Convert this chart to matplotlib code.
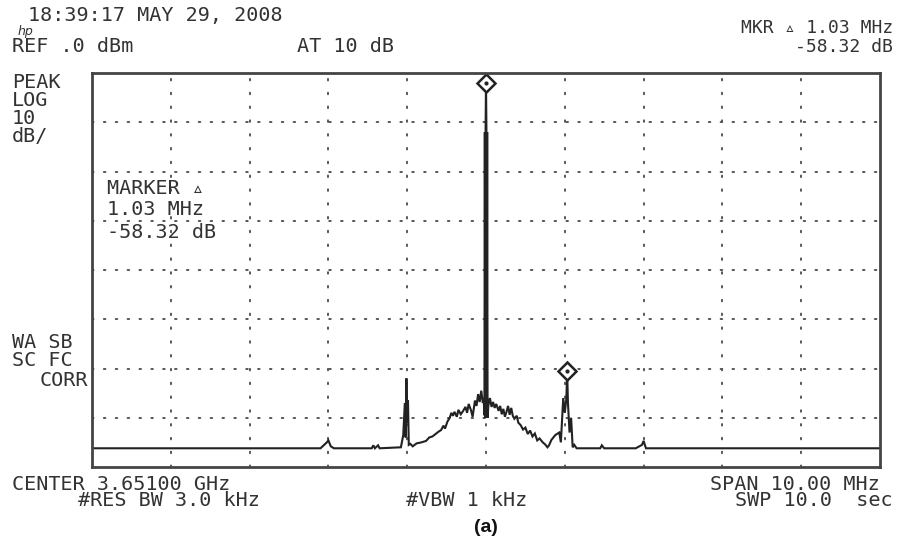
import matplotlib
matplotlib.use("Agg")
import matplotlib.pyplot as plt

# ---- data (offset from center in MHz, level in dBm) ----
freq_mhz = [-5.0, -2.1, -2.02, -2.0, -1.97, -1.93, -1.45, -1.43, -1.41, -1.37, -1.35,
            -1.08, -1.05, -1.03, -1.02, -1.01, -1.0, -0.99, -0.98, -0.96, -0.93, -0.88,
            -0.82, -0.76, -0.72, -0.68, -0.64, -0.60, -0.57, -0.54, -0.52, -0.49, -0.46,
            -0.44, -0.42, -0.40, -0.37, -0.35, -0.32, -0.29, -0.26, -0.24, -0.22, -0.19,
            -0.17, -0.14, -0.12, -0.10, -0.08, -0.06, -0.04, -0.03,
            -0.02, -0.015, -0.01, -0.005, 0.0, 0.005, 0.01, 0.015, 0.02,
            0.03, 0.05, 0.07, 0.09, 0.11, 0.13, 0.16, 0.18, 0.20, 0.22, 0.24, 0.26, 0.28,
            0.30, 0.32, 0.34, 0.36, 0.39, 0.41, 0.44, 0.47, 0.50, 0.53, 0.56, 0.59, 0.62,
            0.65, 0.68, 0.72, 0.75, 0.78, 0.80, 0.83, 0.88, 0.93, 0.95, 0.98, 1.0, 1.02,
            1.03, 1.04, 1.06, 1.08, 1.1, 1.12, 1.15, 1.45, 1.47, 1.5, 1.9, 1.98, 2.0, 2.03,
            5.0]
level_dbm = [-76.2, -76.2, -75.0, -74.6, -75.8, -76.2, -76.2, -75.6, -76.2, -75.6, -76.2,
             -76.0, -73.5, -67.0, -74.0, -62.0, -71.0, -66.5, -75.5, -75.3, -75.8, -75.2,
             -75.0, -74.7, -74.0, -73.8, -73.3, -72.8, -72.5, -71.6, -72.2, -70.8, -70.0,
             -69.0, -69.6, -68.8, -69.8, -68.4, -69.3, -68.6, -67.8, -69.0, -67.2, -68.5,
             -69.8, -66.5, -67.6, -65.2, -66.8, -64.5, -67.0, -66.0,
             -69.5, -12.0, -70.0, -11.0, -2.0, -11.0, -70.0, -12.0, -70.0,
             -67.5, -66.0, -67.8, -66.8, -68.0, -67.2, -68.6, -67.6, -69.3, -68.2, -69.8,
             -68.8, -67.6, -69.4, -68.0, -69.6, -70.2, -69.6, -71.0, -71.5, -72.4, -72.0,
             -73.3, -72.6, -73.8, -73.2, -74.6, -74.2, -75.0, -75.4, -76.0, -75.6, -74.5,
             -73.5, -73.0, -75.0, -66.0, -69.0, -66.0, -60.6, -67.0, -73.0, -70.0, -76.0,
             -75.5, -76.2, -76.2, -75.6, -76.2, -76.2, -75.5, -74.7, -76.2, -76.2]
marker_freq = [0.0, 1.03]
marker_level = [-2.0, -60.6]

x_ticks = [-4, -3, -2, -1, 0, 1, 2, 3, 4]
y_ticks = [-10, -20, -30, -40, -50, -60, -70]

W, H = 899, 557
fig = plt.figure(figsize=(W / 100, H / 100), dpi=100)
ax = fig.add_axes([92 / W, (H - 467) / H, 788 / W, 394 / H])
ax.set_xlim(-5, 5)
ax.set_ylim(-80, 0)

ink = "#222222"
grid = "#555555"
for x in x_ticks:
    ax.axvline(x, color=grid, lw=1.4, ls=(0, (0.8, 6.3)), dash_capstyle="round")
for y in y_ticks:
    ax.axhline(y, color=grid, lw=1.4, ls=(0, (0.8, 5.3)), dash_capstyle="round")

ax.plot(freq_mhz, level_dbm, color=ink, lw=1.5, solid_joinstyle="miter")
ax.plot(marker_freq, marker_level, ls="none", marker="D", ms=9, mfc="white",
        mec=ink, mew=1.8)
ax.plot(marker_freq, marker_level, ls="none", marker="o", ms=2, color=ink)

ax.set_xticks([])
ax.set_yticks([])
for s in ax.spines.values():
    s.set_color("#444444")
    s.set_linewidth(2)

mono = ["DejaVu Sans Mono", "DejaVu Sans"]
fs = 14.5
tc = "#333333"


def t(x, y, s, ha="left", size=fs, **kw):
    fig.text(x / W, 1 - y / H, s, ha=ha, va="center", family=kw.pop("family", mono),
             fontsize=size, color=kw.pop("color", tc), **kw)


t(28, 15, "18:39:17 MAY 29, 2008")
t(18, 31, "hp", size=9, family=["DejaVu Sans"], style="italic")
t(12, 47, "REF .0 dBm")
t(297, 47, "AT 10 dB")
t(893, 28, "MKR \u25b5 1.03 MHz", ha="right", size=13)
t(893, 47, "-58.32 dB", ha="right", size=13)
t(12, 82, "PEAK")
t(12, 101, "LOG")
t(12, 119, "10")
t(12, 137, "dB/")
t(107, 188, "MARKER \u25b5")
t(107, 209, "1.03 MHz")
t(107, 233, "-58.32 dB")
t(12, 342, "WA SB")
t(12, 361, "SC FC")
t(88, 380, "CORR", ha="right")
t(12, 484, "CENTER 3.65100 GHz")
t(880, 484, "SPAN 10.00 MHz", ha="right")
t(78, 501, "#RES BW 3.0 kHz")
t(406, 501, "#VBW 1 kHz")
t(893, 501, "SWP 10.0  sec", ha="right")
t(486, 528, "(a)", ha="center", size=14, family=["Liberation Sans", "DejaVu Sans"],
  weight="bold", color="#111111")

fig.savefig("out.png", dpi=100)
